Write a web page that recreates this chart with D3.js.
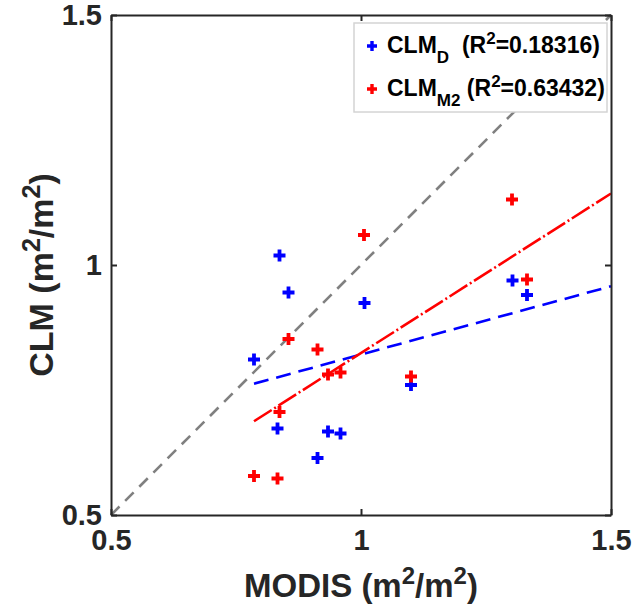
<!DOCTYPE html>
<html>
<head>
<meta charset="utf-8">
<script src="https://cdn.jsdelivr.net/npm/d3@7"></script>
<style>
  html, body { margin: 0; padding: 0; background: #fff; }
  svg { display: block; font-family: "Liberation Sans", Arial, Helvetica, sans-serif; }
</style>
</head>
<body>
<svg id="chart" width="635" height="614"></svg>
<script>
// ---- data ----
const modisD  = [0.837, 0.855, 0.786, 1.007, 0.833, 0.934, 0.959, 0.913, 1.100, 1.303, 1.332];
const clmD    = [1.019, 0.945, 0.811, 0.924, 0.673, 0.667, 0.663, 0.614, 0.760, 0.969, 0.940];
const modisM2 = [1.006, 1.302, 1.332, 0.855, 0.913, 0.934, 0.959, 1.100, 0.837, 0.786, 0.833];
const clmM2   = [1.060, 1.131, 0.971, 0.852, 0.831, 0.781, 0.785, 0.777, 0.706, 0.578, 0.573];
// fitted lines: [slope, intercept], drawn from min x to 1.5
const fitD  = [0.273, 0.548];
const fitM2 = [0.638, 0.186];
const fitRange = [0.786, 1.5];
const oneToOne = [0.5, 1.5];
const tickValues = [0.5, 1, 1.5];
const tickLabels = ["0.5", "1", "1.5"];
const seriesNames = ["CLM", "CLM"];
const seriesSubs = ["D", "M2"];
const r2 = ["0.18316", "0.63432"];
const colors = ["#0000ff", "#ff0000"];

// ---- layout ----
const svg = d3.select("#chart");
const L = 111, T = 15, W = 500, H = 500;
const x = d3.scaleLinear().domain([0.5, 1.5]).range([L, L + W]);
const y = d3.scaleLinear().domain([0.5, 1.5]).range([T + H, T]);
const axisColor = "#262626";

// 1:1 line
svg.append("line")
  .attr("x1", x(oneToOne[0])).attr("y1", y(oneToOne[0]))
  .attr("x2", x(oneToOne[1])).attr("y2", y(oneToOne[1]))
  .attr("stroke", "#808080").attr("stroke-width", 2.6)
  .attr("stroke-dasharray", "12,8");

// points
function plus(px, py, s) { return `M${px - s},${py}h${2 * s}M${px},${py - s}v${2 * s}`; }
const sets = [[modisD, clmD], [modisM2, clmM2]];
sets.forEach((s, i) => {
  svg.append("g").selectAll("path").data(s[0]).join("path")
    .attr("d", (d, j) => plus(x(d), y(s[1][j]), 6))
    .attr("stroke", colors[i]).attr("stroke-width", 3.8).attr("fill", "none");
});

// fit lines
const fits = [fitD, fitM2];
const dashes = ["15,8", "21,3,2,3"];
fits.forEach((f, i) => {
  svg.append("line")
    .attr("x1", x(fitRange[0])).attr("y1", y(f[0] * fitRange[0] + f[1]))
    .attr("x2", x(fitRange[1])).attr("y2", y(f[0] * fitRange[1] + f[1]))
    .attr("stroke", colors[i]).attr("stroke-width", 2.6)
    .attr("stroke-dasharray", dashes[i]);
});

// axes (box with inward ticks)
const tickLen = 6;
const axB = d3.axisBottom(x).tickValues(tickValues).tickFormat((d, i) => tickLabels[i]).tickSizeInner(-tickLen).tickSizeOuter(0).tickPadding(14);
const axL = d3.axisLeft(y).tickValues(tickValues).tickFormat((d, i) => tickLabels[i]).tickSizeInner(-tickLen).tickSizeOuter(0).tickPadding(9);
const axT = d3.axisTop(x).tickValues(tickValues).tickFormat("").tickSizeInner(-tickLen).tickSizeOuter(0);
const axR = d3.axisRight(y).tickValues(tickValues).tickFormat("").tickSizeInner(-tickLen).tickSizeOuter(0);
function style(g) {
  g.select(".domain").attr("stroke", axisColor).attr("stroke-width", 2);
  g.selectAll(".tick line").attr("stroke", axisColor).attr("stroke-width", 2);
  g.selectAll(".tick text").attr("fill", "#262626").attr("font-size", 29).attr("font-weight", "bold")
    .attr("font-family", "Liberation Sans, Arial, sans-serif");
}
svg.append("g").attr("transform", `translate(0,${T + H})`).call(axB).call(style);
svg.append("g").attr("transform", `translate(${L},0)`).call(axL).call(style);
svg.append("g").attr("transform", `translate(0,${T})`).call(axT).call(style);
svg.append("g").attr("transform", `translate(${L + W},0)`).call(axR).call(style);

// axis titles
const xt = svg.append("text").attr("x", x(1)).attr("y", 597).attr("text-anchor", "middle")
  .attr("font-size", 33).attr("font-weight", "bold").attr("fill", "#262626");
xt.append("tspan").text("MODIS (m");
xt.append("tspan").attr("dy", -13).attr("font-size", 24).text("2");
xt.append("tspan").attr("dy", 13).text("/m");
xt.append("tspan").attr("dy", -13).attr("font-size", 24).text("2");
xt.append("tspan").attr("dy", 13).text(")");

const yt = svg.append("text").attr("transform", `translate(53,${y(1) + 10}) rotate(-90)`).attr("text-anchor", "middle")
  .attr("font-size", 34).attr("font-weight", "bold").attr("fill", "#262626");
yt.append("tspan").text("CLM (m");
yt.append("tspan").attr("dy", -13).attr("font-size", 25).text("2");
yt.append("tspan").attr("dy", 13).text("/m");
yt.append("tspan").attr("dy", -13).attr("font-size", 25).text("2");
yt.append("tspan").attr("dy", 13).text(")");

// legend
const lg = svg.append("g");
lg.append("rect").attr("x", 354).attr("y", 23).attr("width", 253).attr("height", 89)
  .attr("fill", "#fff").attr("stroke", "#d4d4d4").attr("stroke-width", 1.5);
const rowY = [46, 89];
seriesNames.forEach((n, i) => {
  lg.append("path").attr("d", plus(372, rowY[i], 5)).attr("stroke", colors[i]).attr("stroke-width", 3.4).attr("fill", "none");
  const t = lg.append("text").attr("x", 387).attr("y", rowY[i] + 7).attr("font-size", 23).attr("font-weight", "bold").attr("fill", "#000");
  t.append("tspan").text(n);
  t.append("tspan").attr("dy", 10).attr("font-size", 17).text(seriesSubs[i]);
  t.append("tspan").attr("dy", -10).text(i === 0 ? "\u00a0\u00a0(R" : "\u00a0(R");
  t.append("tspan").attr("dy", -9).attr("font-size", 17).text("2");
  t.append("tspan").attr("dy", 9).text("=" + r2[i] + ")");
});
</script>
</body>
</html>
